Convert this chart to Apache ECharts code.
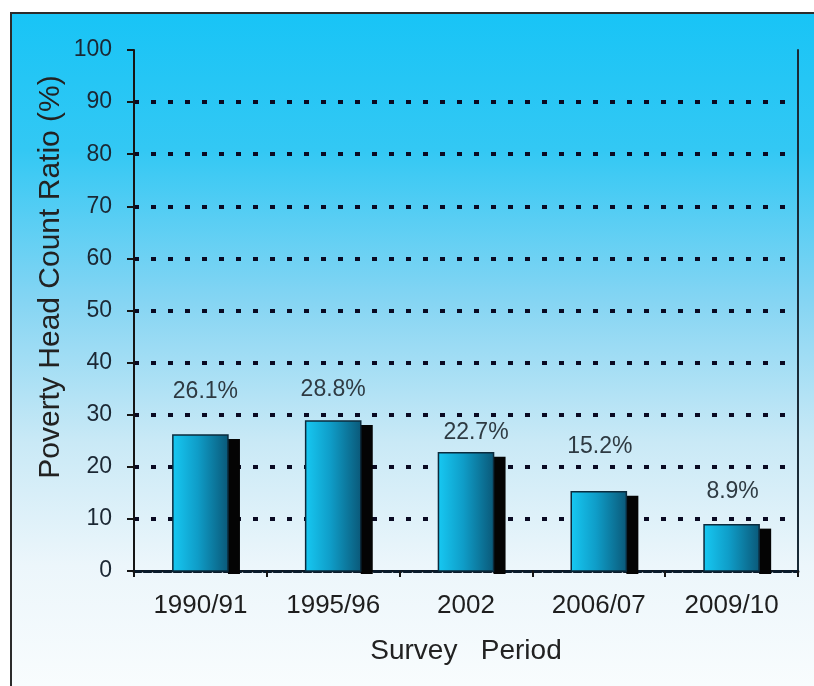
<!DOCTYPE html>
<html>
<head>
<meta charset="utf-8">
<script src="https://cdn.jsdelivr.net/npm/echarts@6/dist/echarts.min.js"></script>
<style>
  html, body { margin: 0; padding: 0; background: #fff; }
  #chart { width: 814px; height: 686px; }
</style>
</head>
<body>
<div id="chart"></div>
<script>
// Survey periods and poverty head count ratio (%)
const periods = ['1990/91', '1995/96', '2002', '2006/07', '2009/10'];
const headCountRatio = [26.1, 28.8, 22.7, 15.2, 8.9];
const yMin = 0, yMax = 100, yStep = 10;

// Value label placement: lift above the bar top and sideways nudge, in px
const labelLift = [43, 31, 20, 45, 33];
const labelNudge = [5, 0, 10, 1, 1];

const FONT = "'Liberation Sans', Arial, sans-serif";

const chart = echarts.init(document.getElementById('chart'), null, { renderer: 'canvas' });

const barFill = new echarts.graphic.LinearGradient(0, 0, 1, 0, [
  { offset: 0, color: '#17c9f3' },
  { offset: 0.45, color: '#0f9dc8' },
  { offset: 1, color: '#0a5878' }
]);

function renderBar(params, api) {
  const i = params.dataIndex;
  const v = api.value(1);
  const top = api.coord([api.value(0), v]);
  const base = api.coord([api.value(0), 0]);
  const band = api.size([1, 0])[0];
  const w = band * 0.415;
  const x0 = top[0] - w / 2;
  const h = base[1] - top[1];
  return {
    type: 'group',
    children: [
      {
        type: 'rect',
        shape: { x: x0 + w, y: top[1] + 4, width: 12, height: h - 1 },
        style: { fill: '#040404' }
      },
      {
        type: 'rect',
        shape: { x: x0, y: top[1], width: w, height: h },
        style: { fill: barFill, stroke: '#0b2b3d', lineWidth: 1.5 }
      },
      {
        type: 'text',
        x: top[0] + labelNudge[i],
        y: top[1] - labelLift[i],
        style: {
          text: v.toFixed(1) + '%',
          font: '23px ' + FONT,
          fill: '#2e3a42',
          align: 'center',
          verticalAlign: 'middle'
        }
      }
    ]
  };
}

chart.setOption({
  backgroundColor: '#ffffff',
  animation: false,
  graphic: [
    {
      type: 'rect',
      z: -10,
      shape: { x: 11, y: 13, width: 830, height: 690 },
      style: {
        stroke: '#2b2b2b',
        lineWidth: 2,
        fill: new echarts.graphic.LinearGradient(0, 0, 0, 1, [
          { offset: 0, color: '#18c4f6' },
          { offset: 0.2, color: '#33c8f4' },
          { offset: 0.42, color: '#86d5f3' },
          { offset: 0.62, color: '#c9e9f6' },
          { offset: 0.8, color: '#ecf6fb' },
          { offset: 1, color: '#fafdfe' }
        ])
      }
    },
    {
      type: 'text',
      x: 51,
      y: 277,
      rotation: Math.PI / 2,
      style: {
        text: 'Poverty Head Count Ratio (%)',
        font: '30px ' + FONT,
        fill: '#222',
        align: 'center',
        verticalAlign: 'middle'
      }
    }
  ],
  grid: { left: 134, right: 16, top: 50, bottom: 115, containLabel: false },
  xAxis: [
    {
      type: 'category',
      data: periods,
      position: 'bottom',
      axisLine: { show: true, lineStyle: { color: '#151515', width: 2 } },
      axisTick: { show: true, inside: false, length: 6, lineStyle: { color: '#151515', width: 2 } },
      axisLabel: { fontFamily: FONT, fontSize: 26, color: '#1e1e1e', margin: 22 },
      name: 'Survey   Period',
      nameLocation: 'middle',
      nameGap: 66,
      nameTextStyle: { fontFamily: FONT, fontSize: 28, color: '#222' },
      splitLine: { show: false }
    },
    {
      type: 'category',
      data: periods,
      position: 'top',
      axisLine: { show: true, lineStyle: { color: '#0a1a2a', width: 3, type: [7, 3] } },
      axisTick: { show: false },
      axisLabel: { show: false },
      splitLine: { show: false }
    }
  ],
  yAxis: [
    {
      type: 'value',
      min: yMin,
      max: yMax,
      interval: yStep,
      position: 'left',
      axisLine: { show: true, lineStyle: { color: '#151515', width: 2 } },
      axisTick: { show: true, inside: false, length: 7, lineStyle: { color: '#151515', width: 2 } },
      axisLabel: { fontFamily: FONT, fontSize: 23, color: '#1b2733', margin: 22 },
      splitLine: {
        show: true,
        showMinLine: false,
        showMaxLine: false,
        lineStyle: { color: '#0a0a22', width: 4, type: [5, 12] }
      }
    },
    {
      type: 'value',
      min: yMin,
      max: yMax,
      interval: yStep,
      position: 'right',
      axisLine: { show: true, lineStyle: { color: '#1a2a36', width: 2 } },
      axisTick: { show: false },
      axisLabel: { show: false },
      splitLine: { show: false }
    }
  ],
  series: [
    {
      type: 'custom',
      renderItem: renderBar,
      xAxisIndex: 0,
      yAxisIndex: 0,
      encode: { x: 0, y: 1 },
      data: headCountRatio.map((v, i) => [i, v]),
      z: 5
    }
  ]
});
</script>
</body>
</html>
